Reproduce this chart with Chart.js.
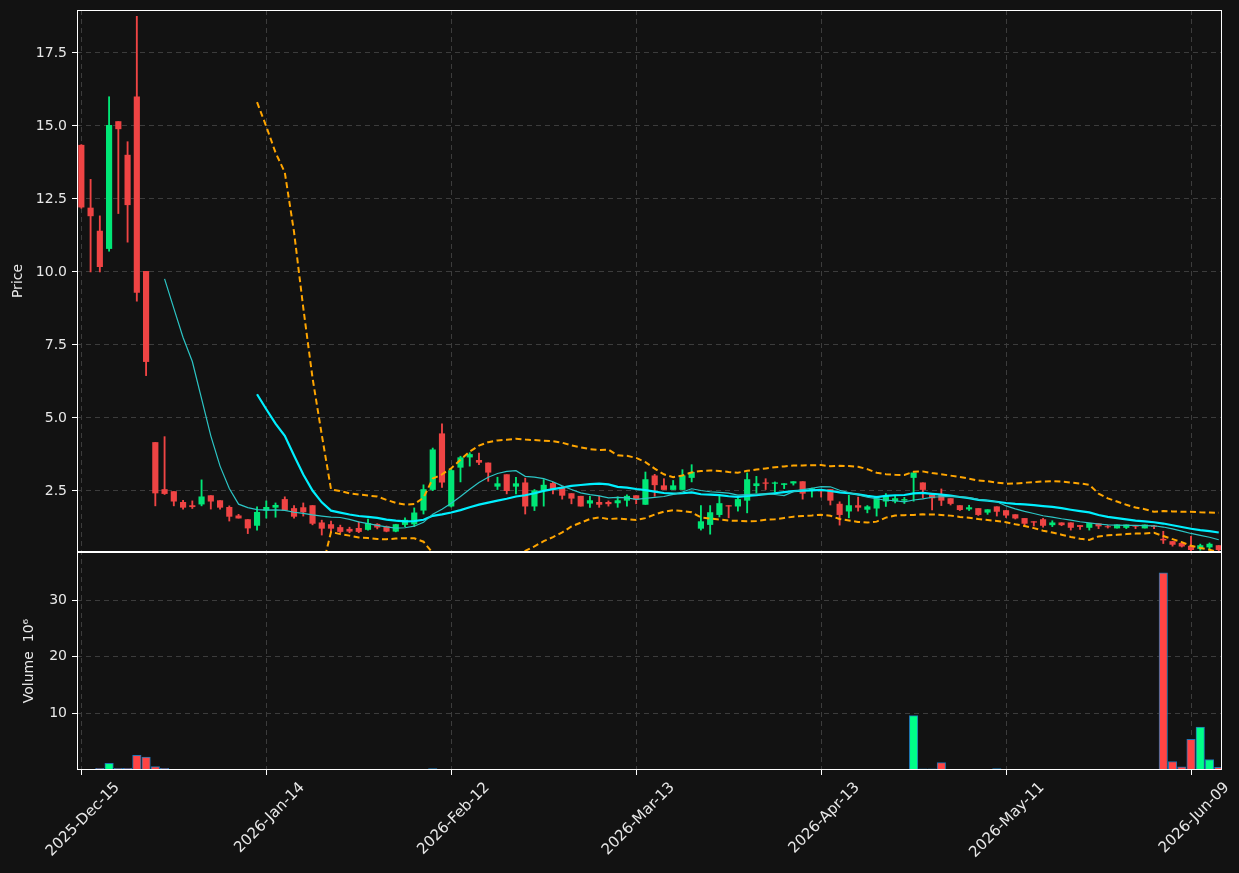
<!DOCTYPE html>
<html>
<head>
<meta charset="utf-8">
<script src="https://cdn.jsdelivr.net/npm/chart.js@4"></script>
<style>
  html, body { margin: 0; background: #121212; }
  canvas { display: block; }
</style>
</head>
<body>
<canvas id="priceChart" width="1239" height="873"></canvas>
<script>
// OHLC per trading day (index 0 = 2025-12-15), volume in millions
const opens = [
  14.34, 12.19, 11.40, 10.80, 15.15, 14.00, 16.00, 10.02, 4.16, 2.55,
  2.48, 2.11, 2.00, 2.05, 2.34, 2.17, 1.94, 1.65, 1.52, 1.32,
  1.84, 1.94, 2.21, 1.90, 1.93, 2.00, 1.41, 1.35, 1.25, 1.19,
  1.22, 1.18, 1.36, 1.28, 1.12, 1.35, 1.37, 1.84, 2.55, 4.46,
  1.98, 3.31, 3.66, 3.55, 3.46, 2.66, 3.06, 2.66, 2.78, 1.98,
  2.52, 2.76, 2.61, 2.41, 2.32, 2.08, 2.11, 2.11, 2.09, 2.18,
  2.34, 2.04, 3.02, 2.68, 2.55, 2.55, 2.96, 1.22, 1.35, 1.69,
  2.00, 1.98, 2.18, 2.68, 2.78, 2.76, 2.72, 2.77, 2.82, 2.52,
  2.53, 2.55, 2.05, 1.81, 2.00, 1.87, 1.91, 2.15, 2.15, 2.18,
  2.96, 2.78, 2.37, 2.35, 2.24, 2.00, 1.88, 1.90, 1.77, 1.96,
  1.83, 1.69, 1.56, 1.45, 1.52, 1.34, 1.41, 1.41, 1.32, 1.25,
  1.38, 1.28, 1.23, 1.25, 1.30, 1.23, 1.30, 0.85, 0.77, 0.71,
  0.61, 0.53, 0.58, 0.63
];
const highs = [
  14.36, 13.17, 11.92, 16.00, 15.15, 14.46, 18.75, 10.02, 4.16, 4.36,
  2.48, 2.18, 2.16, 2.88, 2.34, 2.17, 1.99, 1.70, 1.52, 1.96,
  2.16, 2.09, 2.30, 2.00, 2.09, 2.00, 1.50, 1.47, 1.33, 1.26,
  1.44, 1.54, 1.38, 1.30, 1.36, 1.58, 1.92, 2.71, 3.97, 4.80,
  3.25, 3.69, 3.81, 3.80, 3.46, 2.97, 3.06, 2.97, 2.94, 2.55,
  2.89, 2.80, 2.66, 2.41, 2.32, 2.32, 2.32, 2.16, 2.30, 2.37,
  2.34, 3.15, 3.07, 2.92, 2.86, 3.23, 3.40, 2.00, 2.00, 2.34,
  2.00, 2.32, 3.12, 3.00, 2.92, 2.81, 2.75, 2.82, 2.82, 2.60,
  2.55, 2.55, 2.13, 2.35, 2.29, 2.00, 2.32, 2.41, 2.32, 2.28,
  3.12, 2.78, 2.40, 2.57, 2.24, 2.00, 2.01, 1.90, 1.86, 1.96,
  1.83, 1.69, 1.56, 1.45, 1.56, 1.48, 1.41, 1.41, 1.32, 1.39,
  1.38, 1.32, 1.34, 1.34, 1.32, 1.34, 1.32, 1.12, 0.77, 0.71,
  0.95, 0.68, 0.72, 0.63
];
const lows = [
  12.18, 10.00, 10.00, 10.71, 12.00, 11.02, 9.00, 6.45, 1.99, 2.38,
  1.99, 1.88, 1.90, 1.99, 1.88, 1.88, 1.47, 1.57, 1.04, 1.16,
  1.57, 1.60, 1.84, 1.57, 1.64, 1.34, 0.99, 1.07, 1.06, 1.07,
  1.07, 1.16, 1.20, 1.10, 1.10, 1.28, 1.28, 1.71, 2.51, 2.62,
  1.95, 2.81, 3.35, 3.40, 2.83, 2.55, 2.40, 2.40, 1.71, 1.83,
  1.98, 2.40, 2.22, 2.06, 1.98, 1.94, 1.94, 1.98, 1.94, 1.98,
  2.06, 2.04, 2.32, 2.55, 2.55, 2.55, 2.81, 1.16, 1.02, 1.61,
  1.58, 1.81, 1.75, 2.43, 2.55, 2.46, 2.58, 2.70, 2.22, 2.29,
  2.29, 2.02, 1.33, 1.58, 1.81, 1.75, 1.64, 1.97, 2.09, 2.07,
  2.15, 2.26, 1.85, 2.00, 2.02, 1.83, 1.83, 1.66, 1.70, 1.64,
  1.59, 1.54, 1.34, 1.30, 1.26, 1.28, 1.31, 1.16, 1.18, 1.16,
  1.21, 1.23, 1.23, 1.21, 1.21, 1.23, 1.21, 0.70, 0.61, 0.58,
  0.40, 0.47, 0.52, 0.45
];
const closes = [
  12.22, 11.92, 10.18, 15.02, 14.90, 12.30, 9.30, 6.93, 2.43, 2.41,
  2.15, 1.94, 1.96, 2.30, 2.15, 1.94, 1.63, 1.57, 1.23, 1.77,
  1.94, 2.01, 1.84, 1.63, 1.78, 1.39, 1.22, 1.22, 1.11, 1.12,
  1.11, 1.39, 1.26, 1.12, 1.35, 1.50, 1.75, 2.55, 3.91, 2.80,
  3.20, 3.64, 3.75, 3.48, 3.14, 2.75, 2.51, 2.75, 1.98, 2.51,
  2.70, 2.57, 2.35, 2.25, 1.98, 2.17, 2.04, 2.06, 2.17, 2.32,
  2.22, 2.89, 2.71, 2.55, 2.68, 3.02, 3.14, 1.45, 1.76, 2.07,
  1.98, 2.21, 2.89, 2.75, 2.76, 2.78, 2.75, 2.82, 2.42, 2.58,
  2.50, 2.18, 1.69, 2.00, 1.94, 1.96, 2.24, 2.32, 2.24, 2.21,
  3.12, 2.55, 2.26, 2.18, 2.07, 1.86, 1.93, 1.69, 1.86, 1.80,
  1.67, 1.57, 1.39, 1.43, 1.32, 1.41, 1.34, 1.25, 1.28, 1.39,
  1.30, 1.27, 1.34, 1.34, 1.29, 1.34, 1.28, 0.82, 0.67, 0.61,
  0.49, 0.63, 0.68, 0.49
];
const volumes = [
  0.05, 0.05, 0.3, 1.2, 0.3, 0.3, 2.6, 2.3, 0.6, 0.3,
  0.1, 0.1, 0.1, 0.05, 0.1, 0.1, 0.1, 0.05, 0.1, 0.1,
  0.05, 0.02, 0.02, 0.02, 0.1, 0.1, 0.1, 0.02, 0.02, 0.02,
  0.02, 0.02, 0.02, 0.02, 0.02, 0.1, 0.05, 0.05, 0.25, 0.1,
  0.05, 0.02, 0.02, 0.02, 0.02, 0.02, 0.02, 0.1, 0.02, 0.02,
  0.02, 0.02, 0.02, 0.02, 0.02, 0.02, 0.02, 0.02, 0.02, 0.02,
  0.02, 0.02, 0.02, 0.02, 0.02, 0.02, 0.02, 0.02, 0.02, 0.02,
  0.02, 0.02, 0.02, 0.02, 0.02, 0.02, 0.02, 0.02, 0.02, 0.02,
  0.02, 0.02, 0.02, 0.02, 0.02, 0.02, 0.02, 0.02, 0.02, 0.02,
  9.6, 0.2, 0.2, 1.3, 0.1, 0.02, 0.02, 0.05, 0.05, 0.25,
  0.05, 0.02, 0.1, 0.02, 0.1, 0.1, 0.02, 0.1, 0.1, 0.02,
  0.02, 0.02, 0.02, 0.02, 0.02, 0.02, 0.02, 34.8, 1.5, 0.55,
  5.4, 7.6, 1.85, 0.45
];

const xTickPos = [0, 20, 40, 60, 80, 100, 120];
const xTickLabels = ['2025-Dec-15', '2026-Jan-14', '2026-Feb-12', '2026-Mar-13', '2026-Apr-13', '2026-May-11', '2026-Jun-09'];
const priceTicks = [2.5, 5, 7.5, 10, 12.5, 15, 17.5];
const volumeTicks = [10, 20, 30];

const UP = '#00e676', DOWN = '#ef4444';
const VOL_UP = '#00ff88', VOL_DOWN = '#ff4444';
const TEXT = '#e8e8e8', GRID = '#3c3c3c';

// moving averages / bollinger bands over the closes
const mean = a => a.reduce((s, v) => s + v, 0) / a.length;
const std = a => { const m = mean(a); return Math.sqrt(mean(a.map(v => (v - m) ** 2))); };
function rolling(values, n, fn) {
    return values.map((_, i) => i < n - 1 ? null : fn(values.slice(i - n + 1, i + 1)));
}
const ma10 = rolling(closes, 10, mean);
const ma20 = rolling(closes, 20, mean);
const bbUpper = rolling(closes, 20, a => mean(a) + 2 * std(a));
const bbLower = rolling(closes, 20, a => mean(a) - 2 * std(a));

const isUp = i => closes[i] >= opens[i];
const pts = arr => arr.map((v, i) => ({ x: i, y: v }));

function lineSet(label, values, color, width, dash) {
    return {
        type: 'line', label, data: pts(values), yAxisID: 'y',
        borderColor: color, borderWidth: width, borderDash: dash || [],
        pointRadius: 0, tension: 0, clip: 0, order: 0
    };
}

// frame round each panel, like the spines of the original
const panelFrame = {
    id: 'panelFrame',
    afterDraw(chart) {
        const { ctx, chartArea: a, scales } = chart;
        ctx.save();
        ctx.strokeStyle = '#ffffff';
        ctx.lineWidth = 1;
        [scales.y, scales.yv].forEach(s => {
            ctx.strokeRect(a.left + 0.5, s.top + 0.5, a.right - a.left - 1, s.bottom - s.top - 1);
        });
        ctx.restore();
    }
};

Chart.defaults.font.family = "'DejaVu Sans', sans-serif";
Chart.defaults.font.size = 14;
Chart.defaults.color = TEXT;

const yAxisCommon = {
    type: 'linear', position: 'left', stack: 'panels',
    border: { display: false, dash: [5, 4] },
    grid: { color: GRID, tickColor: '#ffffff', tickLength: 5, tickBorderDash: [] },
    ticks: { color: TEXT, padding: 5 },
    afterFit: s => { s.width = 77; s.paddingTop = 0; s.paddingBottom = 0; }
};

new Chart(document.getElementById('priceChart'), {
    type: 'bar',
    data: {
        datasets: [
            lineSet('MA10', ma10, '#2cc5c5', 1.2),
            lineSet('MA20', ma20, '#00f0ff', 2.2),
            lineSet('BB upper', bbUpper, '#ffa500', 2, [6, 3.5]),
            lineSet('BB lower', bbLower, '#ffa500', 2, [6, 3.5]),
            {
                label: 'Wick', data: highs.map((h, i) => ({ x: i, y: [lows[i], h] })),
                yAxisID: 'y', grouped: false, barThickness: 1.2, order: 2,
                backgroundColor: ctx => isUp(ctx.dataIndex) ? UP : DOWN
            },
            {
                label: 'Body', data: opens.map((o, i) => ({ x: i, y: [o, closes[i]] })),
                yAxisID: 'y', grouped: false, barThickness: 5.5, order: 1,
                backgroundColor: ctx => isUp(ctx.dataIndex) ? UP : DOWN
            },
            {
                label: 'Volume', data: pts(volumes),
                yAxisID: 'yv', grouped: false, barThickness: 8.5, order: 1,
                backgroundColor: ctx => isUp(ctx.dataIndex) ? VOL_UP : VOL_DOWN,
                borderColor: '#1f77b4', borderWidth: 1, borderSkipped: false
            }
        ]
    },
    options: {
        responsive: false,
        animation: false,
        devicePixelRatio: 1,
        layout: { padding: { top: 10, right: 17, left: 0, bottom: 0 } },
        plugins: { legend: { display: false }, tooltip: { enabled: false } },
        scales: {
            x: {
                type: 'linear', min: -0.47, max: 123.35, offset: false,
                border: { display: false, dash: [5, 4] },
                grid: { offset: false, color: GRID, tickColor: '#ffffff', tickLength: 5, tickBorderDash: [] },
                afterBuildTicks: s => { s.ticks = xTickPos.map(v => ({ value: v })); },
                afterFit: s => { s.height = 103; },
                ticks: {
                    autoSkip: false, minRotation: 45, maxRotation: 45, labelOffset: 36, padding: 4,
                    font: { size: 15 },
                    callback: v => xTickLabels[xTickPos.indexOf(v)]
                }
            },
            yv: {
                ...yAxisCommon, stackWeight: 218, min: 0, max: 38.5,
                afterBuildTicks: s => { s.ticks = volumeTicks.map(v => ({ value: v })); },
                ticks: { ...yAxisCommon.ticks, callback: v => String(v) },
                title: { display: true, text: 'Volume  10\u2076', color: TEXT, font: { size: 14 }, padding: { top: 21, bottom: 0 } }
            },
            y: {
                ...yAxisCommon, stackWeight: 542, min: 0.41, max: 18.97,
                afterBuildTicks: s => { s.ticks = priceTicks.map(v => ({ value: v })); },
                ticks: { ...yAxisCommon.ticks, callback: v => v.toFixed(1) },
                title: { display: true, text: 'Price', color: TEXT, font: { size: 14 }, padding: { top: 10, bottom: 0 } }
            }
        }
    },
    plugins: [panelFrame]
});
</script>
</body>
</html>
